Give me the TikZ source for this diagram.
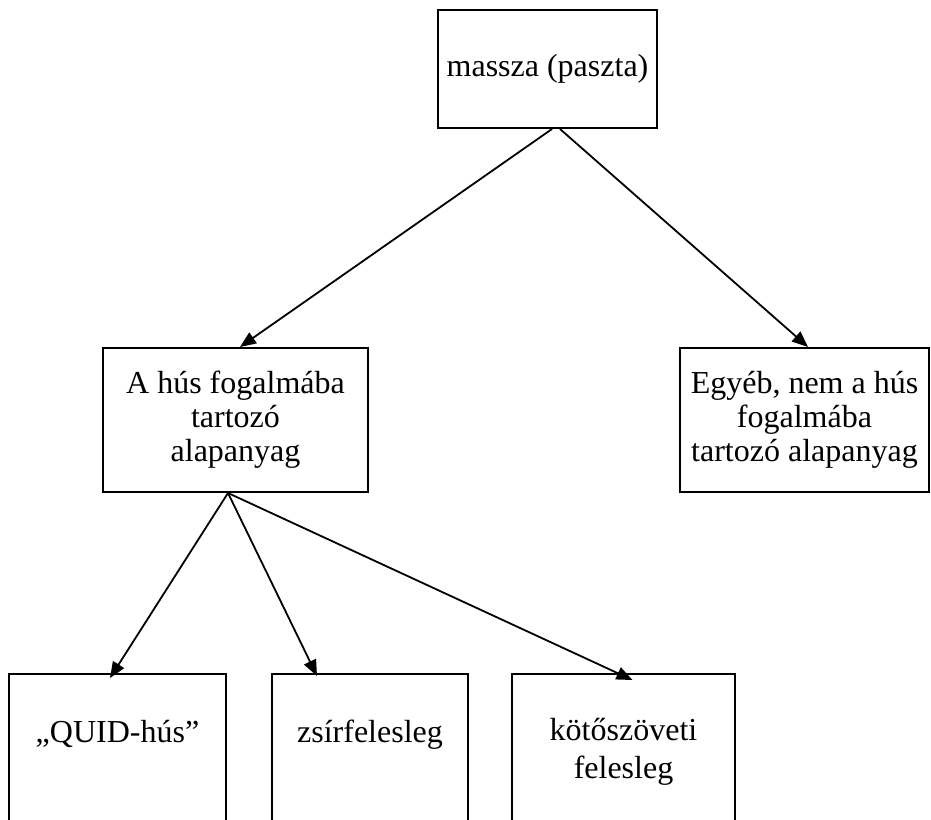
\documentclass[tikz,border=0pt]{standalone}
\usepackage{fontspec}
\setmainfont{Liberation Serif}
\usetikzlibrary{arrows.meta, positioning}

\begin{document}
\begin{tikzpicture}[x=0.5pt, y=-0.5pt, >={Triangle[length=8pt, width=6.5pt]}, font=\fontsize{16}{17}\selectfont]
    % Stílusok
    \tikzstyle{box} = [draw, line width=1pt, rectangle, align=center, inner sep=0pt]
    \tikzstyle{leaf} = [box, anchor=north, text depth=100pt]
    \tikzstyle{link} = [->, line width=0.9pt]

    \useasboundingbox (0,0) rectangle (931,819);

    % Csomópontok
    \node [box, minimum width=109.5pt, minimum height=59pt] (massza) at (547.5,69) {massza (paszta)};
    \node [box, minimum width=132.5pt, minimum height=72pt] (hus) at (235.5,420) {A hús fogalmába\\tartozó\\alapanyag};
    \node [box, minimum width=124.5pt, minimum height=72pt] (egyeb) at (804.5,420) {Egyéb, nem a hús\\fogalmába\\tartozó alapanyag};
    \node [leaf, minimum width=108.5pt, text height=34pt] (quid) at (117.5,673) {„QUID-hús”};
    \node [leaf, minimum width=98pt, text height=34pt] (zsir) at (370,673) {zsírfelesleg};
    \node [leaf, minimum width=111.5pt, text height=52pt] (koto) at (623.5,673) {kötőszöveti\\[2pt]felesleg};

    % Kapcsolatok
    \draw [link] ([xshift=2.25pt]massza.south) -- ([xshift=2.25pt]hus.north);
    \draw [link] ([xshift=6.25pt]massza.south) -- ([xshift=1.75pt]egyeb.north);
    \draw [link] ([xshift=-3.75pt]hus.south) -- ([xshift=-3.75pt, yshift=-2.5pt]quid.north);
    \draw [link] ([xshift=-3.75pt]hus.south) -- ([xshift=-26.5pt, yshift=-1.5pt]zsir.north);
    \draw [link] ([xshift=-3.75pt]hus.south) -- ([xshift=4.5pt, yshift=-3.5pt]koto.north);

\end{tikzpicture}
\end{document}
